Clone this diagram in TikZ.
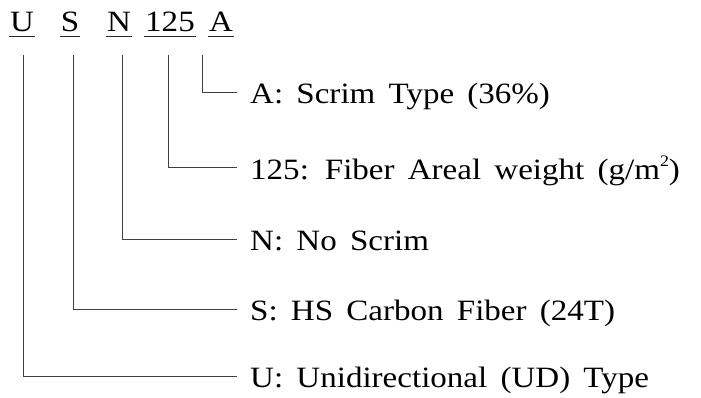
\documentclass[tikz,border=0pt]{standalone}
\usepackage{fontspec}
\setmainfont{Liberation Serif}[FakeStretch=1.12, WordSpace=1.6]
\newcommand{\supsmall}[1]{\raisebox{0.42em}{\fontsize{16}{16}\selectfont #1}}
\begin{document}
\begin{tikzpicture}[x=1pt,y=-1pt,
  lbl/.style={font=\fontsize{29.5}{30}\selectfont, inner sep=0pt, anchor=base},
  desc/.style={font=\fontsize{29.5}{30}\selectfont, inner xsep=13pt, inner ysep=0pt,
    text height=22pt, text depth=0pt, anchor=west},
  conn/.style={draw=black!75, line width=1pt},
  uline/.style={draw=black!85, line width=0.9pt}]
\useasboundingbox (0,0) rectangle (701,398);
% code letters
\node[lbl] (U) at (22,32) {U};
\node[lbl] (S) at (70,32) {S};
\node[lbl] (N) at (119,32) {N};
\node[lbl] (W) at (170,32) {125};
\node[lbl] (A) at (221,32) {A};
\foreach \n in {U,S,N,W,A}
  \draw[uline] ([xshift=-1pt,yshift=-4pt]\n.base west) -- ([xshift=1pt,yshift=-4pt]\n.base east);
% connector tops
\coordinate (uT) at (23,55);
\coordinate (sT) at (73,55);
\coordinate (nT) at (122,55);
\coordinate (wT) at (168,55);
\coordinate (aT) at (202,55);
% descriptions
\node[desc] (dA) at (237,93)  {A: Scrim Type (36\%)};
\node[desc] (dW) at (237,168) {125: Fiber Areal weight (g/m\supsmall{2})};
\node[desc] (dN) at (237,239) {N: No Scrim};
\node[desc] (dS) at (237,309) {S: HS Carbon Fiber (24T)};
\node[desc] (dU) at (237,376) {U: Unidirectional (UD) Type};
% connectors
\draw[conn] (aT) |- (dA.west);
\draw[conn] (wT) |- (dW.west);
\draw[conn] (nT) |- (dN.west);
\draw[conn] (sT) |- (dS.west);
\draw[conn] (uT) |- (dU.west);
\end{tikzpicture}
\end{document}
